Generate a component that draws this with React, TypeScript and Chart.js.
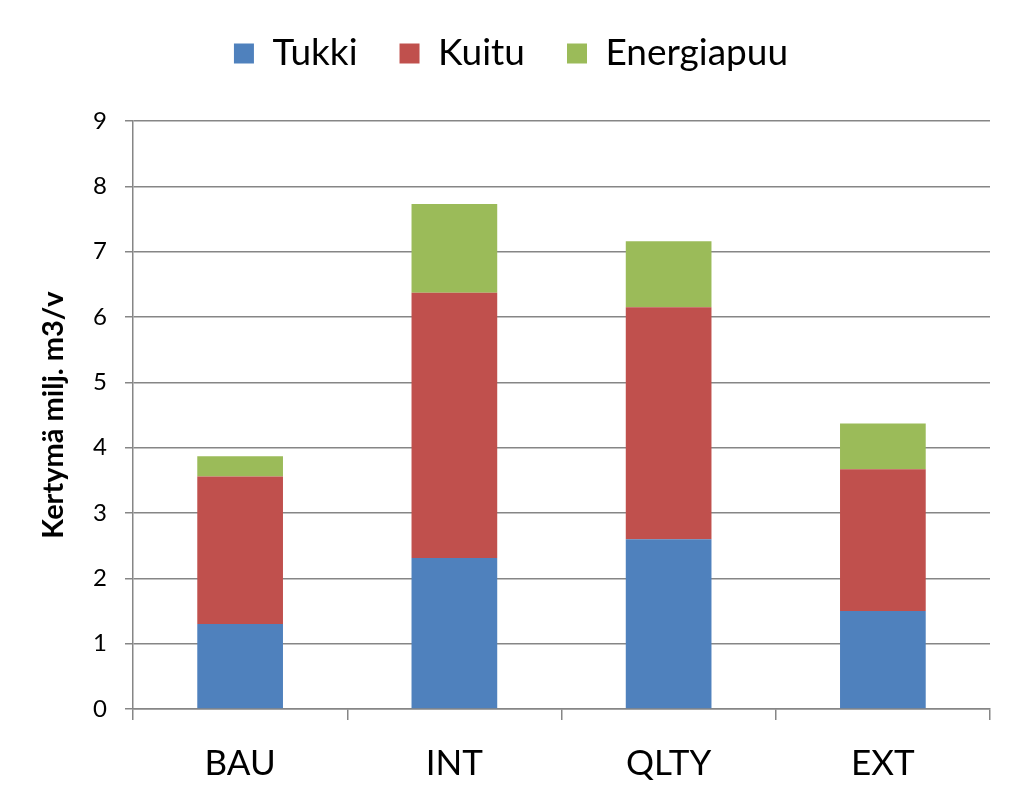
import React, { useEffect, useRef } from "react";
import { Chart, registerables } from "chart.js";

Chart.register(...registerables);

const categories = ["BAU", "INT", "QLTY", "EXT"];
const seriesNames = ["Tukki", "Kuitu", "Energiapuu"];
const tukki = [1.3, 2.31, 2.6, 1.5];
const kuitu = [2.26, 4.06, 3.55, 2.17];
const energiapuu = [0.31, 1.36, 1.01, 0.7];
const colors = ["#4F81BD", "#C0504D", "#9BBB59"];
const yTitle = "Kertymä milj. m3/v";

const FONT = "Lato, 'Open Sans', sans-serif";

const legendSpacer = {
  id: "legendSpacer",
  beforeInit(chart: any) {
    const legend = chart.legend;
    if (!legend) return;
    const orig = legend.fit;
    legend.fit = function () {
      orig.call(this);
      this.height += 39;
    };
  },
};

export default function App() {
  const ref = useRef<HTMLCanvasElement | null>(null);
  useEffect(() => {
    if (!ref.current) return;
    const chart = new Chart(ref.current, {
      type: "bar",
      data: {
        labels: categories,
        datasets: [tukki, kuitu, energiapuu].map((d, i) => ({
          label: seriesNames[i],
          data: d,
          backgroundColor: colors[i],
          borderWidth: 0,
          categoryPercentage: 1,
          barPercentage: 0.4,
        })),
      },
      plugins: [legendSpacer],
      options: {
        animation: false,
        responsive: false,
        maintainAspectRatio: false,
        layout: { padding: { top: -7, right: 34, left: 32, bottom: 10 } },
        plugins: {
          legend: {
            position: "top",
            labels: {
              boxWidth: 20,
              boxHeight: 20,
              padding: 42,
              color: "#000",
              font: { family: FONT, size: 37 },
            },
          },
          tooltip: { enabled: false },
        },
        scales: {
          x: {
            stacked: true,
            grid: {
              offset: true,
              drawOnChartArea: false,
              drawTicks: true,
              tickLength: 11,
              color: "#868686",
              lineWidth: 1.5,
            },
            border: { color: "#868686", width: 1.5 },
            ticks: {
              color: "#000",
              font: { family: FONT, size: 35 },
              padding: 23,
            },
            afterFit: (s: any) => {
              s.height = 808 - 709 - 10;
            },
          },
          y: {
            stacked: true,
            min: 0,
            max: 9,
            ticks: {
              stepSize: 1,
              color: "#000",
              font: { family: FONT, size: 24 },
              padding: 18,
            },
            grid: {
              color: "#868686",
              lineWidth: 1.5,
              tickLength: 8,
            },
            border: { color: "#868686", width: 1.5 },
            title: {
              display: true,
              text: yTitle,
              color: "#000",
              font: { family: FONT, size: 29, weight: "bold" },
              padding: { bottom: 20 },
            },
            afterFit: (s: any) => {
              s.width = 133 - 32;
            },
          },
        },
      },
    });
    return () => chart.destroy();
  }, []);
  return (
    <div style={{ position: "fixed", left: 0, top: 0, width: 1024, height: 808, background: "#fff" }}>
      <canvas ref={ref} width={1024} height={808} />
    </div>
  );
}
